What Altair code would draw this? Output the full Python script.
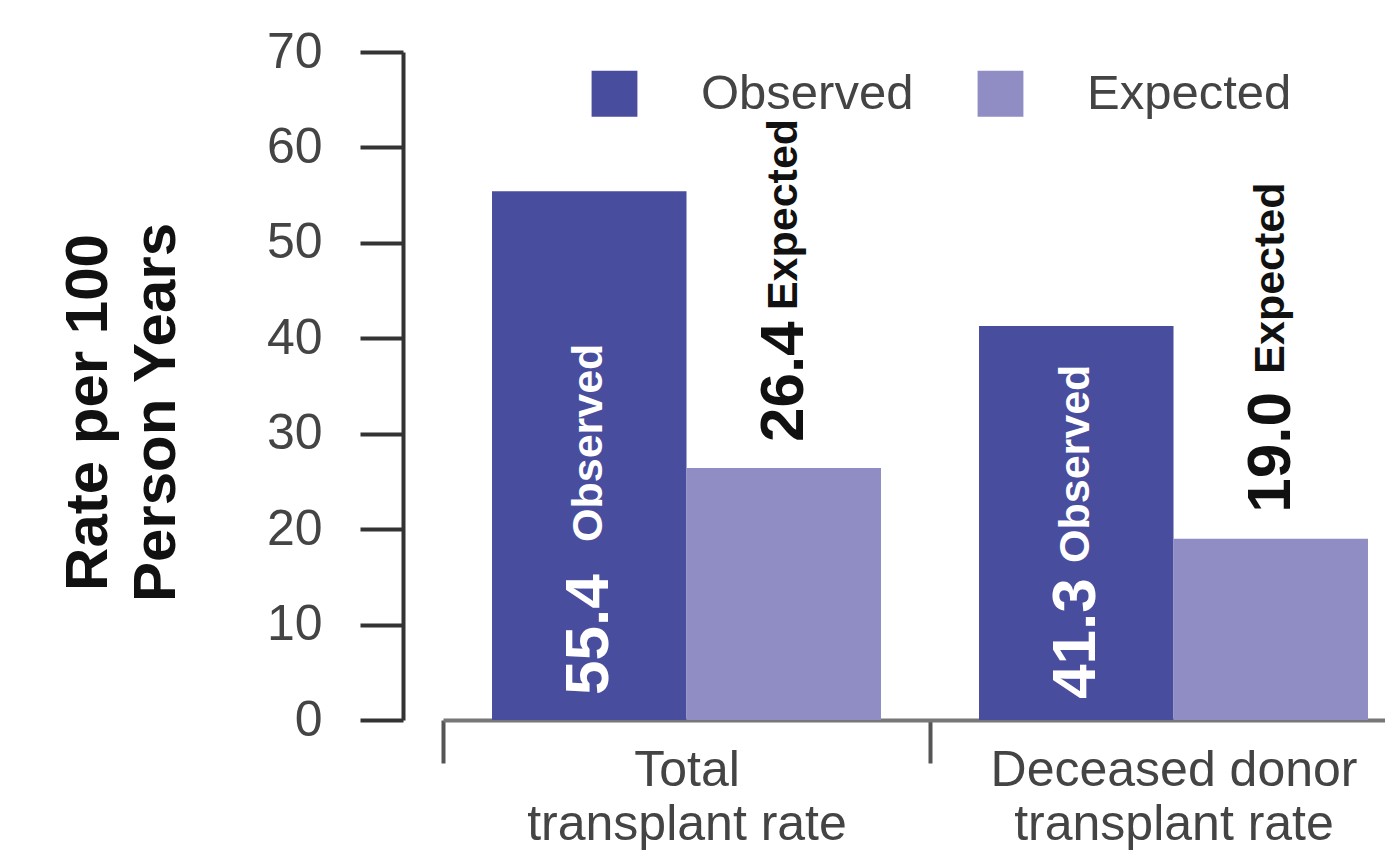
import altair as alt
import pandas as pd

# ---- data ----
groups = ["Total transplant rate", "Deceased donor transplant rate"]
group_lines = [["Total", "transplant rate"], ["Deceased donor", "transplant rate"]]
series = ["Observed", "Expected"]
observed = [55.4, 41.3]
expected = [26.4, 19.0]
y_ticks = [0, 10, 20, 30, 40, 50, 60, 70]
y_title = ["Rate per 100", "Person Years"]

# ---- styles ----
colors = ["#494D9E", "#8F8DC3"]
FONT = "Liberation Sans"
TXT = "#444444"

rows = []
for i, g in enumerate(groups):
    rows.append({"group": g, "series": "Observed", "value": observed[i]})
    rows.append({"group": g, "series": "Expected", "value": expected[i]})
df = pd.DataFrame(rows)
df["num"] = df["value"].map(lambda v: f"{v:.1f}")

label_expr = ""
for g, lines in zip(groups, group_lines):
    label_expr += f"datum.value == '{g}' ? {lines!r} : "
label_expr += "''"

x_enc = alt.X(
    "group:N",
    sort=groups,
    scale=alt.Scale(domain=groups, range=[0, 974], paddingInner=0, paddingOuter=0),
    axis=alt.Axis(
        title=None, labelAngle=0, tickBand="extent", tickSize=43, tickWidth=4,
        tickColor="#555555", domainColor="#777777", domainWidth=4,
        labelFontSize=50, labelColor=TXT, labelFont=FONT, labelPadding=-18,
        labelBaseline="top", labelLineHeight=54, labelExpr=label_expr,
        labelOverlap=False, labelBound=False, labelFlush=False, labelLimit=0,
        grid=False,
    ),
)
xo_scale = alt.Scale(domain=series, paddingInner=0, paddingOuter=0.252)
y_scale = alt.Scale(domain=[0, 70], nice=False, zero=True)
y_axis = alt.Axis(
    values=y_ticks, offset=40, tickSize=43, tickWidth=4, tickColor="#333333",
    domainColor="#333333", domainWidth=4, labelFontSize=50, labelColor=TXT,
    labelFont=FONT, labelPadding=38, grid=False,
    title=y_title, titleFont=FONT, titleFontSize=60, titleFontWeight="bold",
    titleColor="#111111", titleAngle=270, titleAlign="center", titleBaseline="middle",
    titleLineHeight=68, titleX=-315, titleY=360, titleLimit=0,
)

bars = alt.Chart().mark_bar().encode(
    x=x_enc,
    xOffset=alt.XOffset("series:N", sort=series, scale=xo_scale),
    y=alt.Y("value:Q", scale=y_scale, axis=y_axis),
    color=alt.Color(
        "series:N", sort=series, scale=alt.Scale(domain=series, range=colors),
        legend=alt.Legend(
            orient="none", legendX=147, legendY=17, direction="horizontal",
            title=None, symbolType="square", symbolSize=2100, symbolStrokeWidth=0,
            symbolOpacity=1, labelFontSize=49, labelColor=TXT, labelFont=FONT,
            labelOffset=62, columnPadding=62, padding=0, labelLimit=0,
        ),
    ),
)

# pixel offsets (along the rotated text) of number and word for each bar
label_dx = {
    (0, "Observed"): (25, 178),
    (1, "Observed"): (21, 157),
    (0, "Expected"): (26, 158),
    (1, "Expected"): (26, 165),
}

texts = []
for (gi, s), (dx_num, dx_word) in label_dx.items():
    g = groups[gi]
    color = "white" if s == "Observed" else "#111111"
    y = alt.Y("value:Q") if s == "Expected" else alt.YDatum(0, type="quantitative")
    filt = (alt.datum.group == g) & (alt.datum.series == s)
    texts.append(
        alt.Chart().mark_text(
            angle=270, align="left", baseline="middle", dx=dx_num,
            font=FONT, fontSize=62, fontWeight="bold", color=color,
        ).encode(x=alt.X("group:N", sort=groups), xOffset=alt.XOffset("series:N", sort=series),
                 y=y, text="num:N").transform_filter(filt)
    )
    texts.append(
        alt.Chart().mark_text(
            angle=270, align="left", baseline="middle", dx=dx_word,
            font=FONT, fontSize=43, fontWeight="bold", color=color,
        ).encode(x=alt.X("group:N", sort=groups), xOffset=alt.XOffset("series:N", sort=series),
                 y=y, text="series:N").transform_filter(filt)
    )

chart = (
    alt.layer(bars, *texts, data=df)
    .properties(
        width=942, height=668, autosize=alt.AutoSizeParams(type="none"),
        padding={"left": 443, "top": 52, "right": 0, "bottom": 131},
        background="white",
    )
    .configure(font=FONT)
    .configure_view(stroke=None)
)

chart.save("out.html", embed_options={"renderer": "svg", "actions": False})
